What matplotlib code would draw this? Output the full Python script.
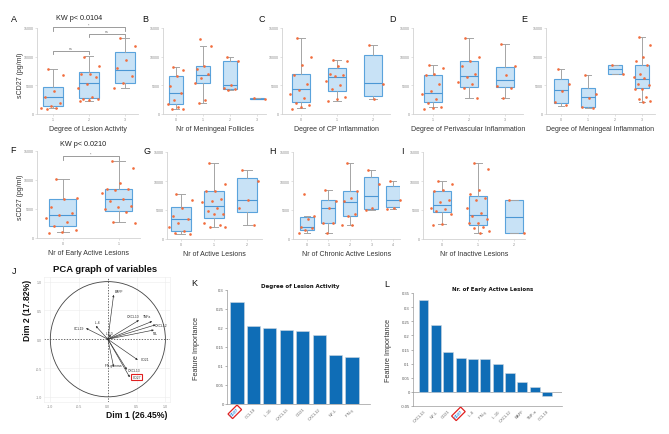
import numpy as np
import matplotlib
matplotlib.use('Agg')
import matplotlib.pyplot as plt
from matplotlib.patches import Circle

plt.rcParams['font.family'] = ['Liberation Sans', 'DejaVu Sans']

# ---------------- data ----------------
# box stats: [whisker low, q1, median, q3, whisker high]
A_cats = [1, 2, 3]
A_points = [[7800, 6800, 4000, 2900, 2000, 1400, 1100, 1000, 900],
            [10000, 8400, 7000, 6900, 6500, 5300, 4500, 3000, 2700, 2600, 2500, 2200],
            [13200, 11800, 9400, 8100, 6700, 5400, 4500]]
A_box = [[990, 1450, 2900, 4650, 7840], [2200, 2790, 5350, 7380, 10050],
         [4470, 5400, 7670, 10750, 13190]]

B_cats = [0, 1, 2, 3]
B_points = [[8250, 7700, 6600, 4900, 3600, 2500, 1800, 1200, 900, 850],
            [13100, 11800, 8300, 7800, 6900, 6300, 5400, 2500, 1900],
            [9900, 9300, 5000, 4600, 4300, 4200],
            [2750, 2700]]
B_box = [[870, 1690, 3600, 6570, 8250], [1860, 5350, 6800, 8310, 11800],
         [4240, 4360, 5050, 9300, 9880], [2650, 2650, 2700, 2800, 2800]]

C_cats = [0, 1, 2]
C_points = [[13200, 10000, 8500, 6800, 5200, 4100, 3500, 2800, 2000, 1600, 1200, 900],
            [9500, 9300, 8300, 7000, 6800, 6600, 5800, 5000, 4300, 2900, 2700, 2200],
            [12000, 5300, 2600]]
C_box = [[990, 2030, 4360, 6970, 13190], [2210, 4070, 6510, 7960, 9470],
         [2610, 3200, 5350, 10340, 12030]]

D_cats = [1, 2, 3]
D_points = [[8600, 8000, 7000, 6800, 5200, 4000, 3500, 2600, 2000, 1300, 1000, 850],
            [13200, 10000, 9300, 8300, 7000, 6500, 5600, 5300, 4500, 2800],
            [12200, 8300, 6800, 4900, 4500, 2800]]
D_box = [[1160, 2030, 3600, 6800, 8600], [2790, 4760, 6570, 9300, 13190],
         [2730, 4650, 5990, 8250, 12200]]

E_cats = [0, 1, 2, 3]
E_points = [[7900, 5200, 4000, 2100, 1500],
            [6800, 3500, 2800, 1200, 1100],
            [8600, 7000],
            [13400, 12000, 10000, 9200, 8500, 7000, 6500, 6300, 5300, 5000, 4400, 4400,
             2900, 2700, 2300, 2100]]
E_box = [[1450, 1920, 4130, 6100, 7850], [1050, 1160, 2900, 4470, 6800],
         [6970, 6970, 7840, 8540, 8540], [2150, 4470, 6100, 8540, 13360]]

F_cats = [0, 1]
F_points = [[10100, 6900, 6700, 5300, 4300, 4000, 3500, 2700, 2100, 1400, 1100, 900],
            [13200, 12000, 9400, 8400, 8400, 8200, 7800, 6700, 6300, 5500, 5400, 5000,
             4400, 2800, 2600]]
F_box = [[1035, 2070, 3910, 6730, 10120], [2760, 4660, 6730, 8450, 13230]]

G_cats = [0, 1, 2]
G_points = [[7800, 6700, 5300, 4000, 3500, 2800, 2000, 1400, 1000, 900],
            [13100, 9400, 8300, 8300, 6900, 6500, 6300, 5400, 4800, 4300, 4300, 2700,
             2500, 2000, 2000],
            [11950, 10000, 6750, 5400, 2500]]
G_box = [[870, 1330, 3460, 5600, 7790], [2020, 3580, 5770, 8190, 13100],
         [2480, 4620, 6750, 10500, 11950]]

H_cats = [0, 1, 2, 3, 4]
H_points = [[7800, 4000, 3500, 2000, 1900, 1500, 1000],
            [8400, 6600, 5300, 2800, 2800, 1000],
            [13100, 8300, 7000, 6500, 4300, 4000, 2500, 2400],
            [11950, 9400, 5300, 5000],
            [10000, 6700, 5400, 5200]]
H_box = [[980, 1560, 2130, 3870, 4040], [980, 2770, 5310, 6640, 8370],
         [2480, 4040, 6460, 8190, 13100], [5020, 5190, 7390, 10670, 11950],
         [5190, 5600, 6750, 9060, 9980]]

I_cats = [0, 1, 2]
I_points = [[10000, 9400, 8500, 8200, 6700, 6400, 5400, 5200, 4900, 4300, 2600, 2500],
            [13100, 12000, 8400, 7800, 7000, 6800, 5300, 4500, 4000, 3500, 2800, 2700,
             2000, 1900, 1300, 1000],
            [6700, 1000]]
I_box = [[2600, 4620, 5940, 8250, 9980], [980, 2480, 4210, 7390, 13100],
         [980, 980, 3870, 6640, 6640]]

K_labels = ['CD27', 'CCL19', 'IL-10', 'CXCL13', 'CD21', 'CXCL12', 'NF-L', 'IFN-γ']
K_values = [0.269, 0.204, 0.199, 0.194, 0.192, 0.181, 0.128, 0.125]

L_labels = ['CXCL13', 'NF-L', 'CD21', 'CD27', 'IL-6', 'IFN-γ', 'IL-10', 'CXCL12',
            'BAFF', 'TNF-α', 'CCL19']
L_values = [0.325, 0.236, 0.141, 0.120, 0.116, 0.116, 0.099, 0.067, 0.035, 0.018, -0.014]

pca_names = ['BAFF', 'CXCL10', 'TNFa', 'CXCL12', 'NfL', 'CCL19', 'IL-6', 'IL-10',
             'CD21', 'CXCL13', 'IFN-gamma', 'CD27']
pca_dim1 = [0.10, 0.54, 0.77, 0.83, 0.80, -0.38, -0.21, 0.05, 0.52, 0.33, 0.10, 0.38]
pca_dim2 = [0.77, 0.33, 0.31, 0.25, 0.16, 0.19, 0.23, 0.08, -0.36, -0.53, -0.48, -0.66]

# ---------------- figure ----------------
W, H = 669, 435
fig = plt.figure(figsize=(W / 100, H / 100), dpi=100)


def ax_px(l, t, r, b):
    return fig.add_axes([l / W, 1 - b / H, (r - l) / W, (b - t) / H])


BOX_FACE = '#c8e2f6'
BOX_EDGE = '#5aa3dc'
PT_COL = '#f26d3d'
GRAY = '#a5a5a5'


def box_panel(rect, cats, points, boxes, xlim, width, xlabel):
    ax = ax_px(*rect)
    stats = [dict(whislo=b[0], q1=b[1], med=b[2], q3=b[3], whishi=b[4], fliers=[])
             for b in boxes]
    ax.bxp(stats, positions=cats, widths=width, patch_artist=True, showfliers=False,
           boxprops=dict(facecolor=BOX_FACE, edgecolor=BOX_EDGE, lw=0.8),
           medianprops=dict(color='#4b97d4', lw=0.8),
           whiskerprops=dict(color=GRAY, lw=0.7),
           capprops=dict(color=GRAY, lw=0.7), capwidths=width * 0.45)
    for c, pts in zip(cats, points):
        n = len(pts)
        offs = np.array([((i * 0.618034 + 0.31) % 1 - 0.5) * width * 1.25
                         for i in range(n)])
        ax.plot(c + offs, pts, 'o', ms=1.9, color=PT_COL, mew=0, zorder=3,
                clip_on=False)
    ax.set_xlim(*xlim)
    ax.set_ylim(0, 15000)
    ax.set_xticks(cats)
    ax.set_yticks([0, 5000, 10000, 15000])
    ax.set_yticklabels(['0', '5000', '10000', '15000'])
    for s in ['top', 'right']:
        ax.spines[s].set_visible(False)
    for s in ['left', 'bottom']:
        ax.spines[s].set_color('#d2d2d2')
        ax.spines[s].set_linewidth(0.6)
    ax.tick_params(length=1.2, width=0.4, color='#cccccc', labelsize=2.6,
                   labelcolor='#8a8a8a', pad=1)
    ax.set_xlabel(xlabel, fontsize=5, color='#333333', labelpad=3)
    return ax


def bracket(ax, x1, x2, y, h, txt):
    ax.plot([x1, x1, x2, x2], [y - h, y, y, y - h], color='#8c8c8c', lw=0.6,
            clip_on=False)
    ax.text((x1 + x2) / 2, y + 80, txt, ha='center', va='bottom', fontsize=2.6,
            color='#666666')


axA = box_panel((37, 29, 138, 115), A_cats, A_points, A_box, (0.556, 3.36), 0.53,
                'Degree of Lesion Activity')
bracket(axA, 1, 2, 11000, 550, 'ns')
bracket(axA, 2, 3, 14000, 550, 'ns')
bracket(axA, 1, 3, 15100, 700, '*')
box_panel((163, 29, 266, 115), B_cats, B_points, B_box, (-0.48, 3.33), 0.52,
          'Nr of Meningeal Follicles')
box_panel((282, 29, 390, 115), C_cats, C_points, C_box, (-0.53, 2.47), 0.5,
          'Degree of CP Inflammation')
box_panel((413, 29, 523, 115), D_cats, D_points, D_box, (0.44, 3.5), 0.5,
          'Degree of Perivascular Inflammation')
box_panel((546, 29, 655, 115), E_cats, E_points, E_box, (-0.56, 3.48), 0.52,
          'Degree of Meningeal Inflammation')
axF = box_panel((37, 152, 140, 239), F_cats, F_points, F_box, (-0.46, 1.38), 0.49,
                'Nr of Early Active Lesions')
bracket(axF, 0, 1, 14100, 600, '*')
box_panel((167, 153, 262, 240), G_cats, G_points, G_box, (-0.42, 2.45), 0.6,
          'Nr of Active Lesions')
box_panel((293, 153, 400, 240), H_cats, H_points, H_box, (-0.65, 4.33), 0.65,
          'Nr of Chronic Active Lesions')
box_panel((423, 153, 525, 240), I_cats, I_points, I_box, (-0.53, 2.31), 0.52,
          'Nr of Inactive Lesions')

fig.text(20 / W, 1 - 75 / H, 'sCD27 (pg/ml)', rotation=90, ha='center', va='center',
         fontsize=5, color='#333333')
fig.text(20 / W, 1 - 197 / H, 'sCD27 (pg/ml)', rotation=90, ha='center', va='center',
         fontsize=5, color='#333333')
fig.text(79 / W, 1 - 18 / H, 'KW p< 0.0104', ha='center', va='center', fontsize=5.2,
         color='#222222')
fig.text(83 / W, 1 - 144 / H, 'KW p< 0.0210', ha='center', va='center', fontsize=5.2,
         color='#222222')

letters = [('A', 14, 19), ('B', 145, 19), ('C', 262, 19), ('D', 393, 19), ('E', 524, 19),
           ('F', 13, 151), ('G', 147, 152), ('H', 273, 152), ('I', 402, 152),
           ('J', 14, 272), ('K', 194, 284), ('L', 387, 285)]
for s, x, y in letters:
    fig.text(x / W, 1 - y / H, s, ha='center', va='center', fontsize=6.5, color='#111111')

# ---------------- PCA ----------------
axp = ax_px(44, 278, 170, 403)
axp.set_xlim(-1.11, 1.08)
axp.set_ylim(-1.09, 1.08)
for v in [-1, -0.5, 0.5, 1]:
    axp.axvline(v, color='#ececec', lw=0.4, zorder=0)
    axp.axhline(v, color='#ececec', lw=0.4, zorder=0)
axp.axvline(0, color='#333333', lw=0.5, ls=(0, (2, 2)), zorder=1)
axp.axhline(0, color='#333333', lw=0.5, ls=(0, (2, 2)), zorder=1)
axp.add_patch(Circle((0, 0), 1, fill=False, ec='#444444', lw=0.6))
lab_off = {'BAFF': (4, 3), 'CXCL10': (-4, 3), 'TNFa': (-4, 4), 'CXCL12': (4, 0),
           'NfL': (1, -2), 'CCL19': (-5, 0), 'IL-6': (1, 3), 'IL-10': (-1, 1),
           'CD21': (5, 1), 'CXCL13': (5, 0), 'IFN-gamma': (0, 1), 'CD27': (5, 0)}
for nm, x, y in zip(pca_names, pca_dim1, pca_dim2):
    axp.annotate('', xy=(x, y), xytext=(0, 0),
                 arrowprops=dict(arrowstyle='-|>', lw=0.45, color='#333333',
                                 shrinkA=0, shrinkB=0, mutation_scale=2.5))
    dx, dy = lab_off[nm]
    kw = {}
    if nm == 'CD27':
        kw['bbox'] = dict(boxstyle='square,pad=0.35', fc='none', ec='#e02020', lw=0.8)
    axp.annotate(nm, xy=(x, y), xytext=(dx, dy), textcoords='offset points',
                 ha='center', va='center', fontsize=2.4, color='#333333', **kw)
axp.set_xticks([-1, -0.5, 0, 0.5, 1])
axp.set_yticks([-1, -0.5, 0, 0.5, 1])
axp.set_xticklabels(['-1.0', '-0.5', '0.0', '0.5', '1.0'])
axp.set_yticklabels(['-1.0', '-0.5', '0.0', '0.5', '1.0'])
axp.tick_params(length=0, labelsize=2.6, labelcolor='#888888', pad=1.5)
for s in axp.spines.values():
    s.set_color('#ececec')
    s.set_linewidth(0.4)
fig.text(105 / W, 1 - 270 / H, 'PCA graph of variables', ha='center', va='center',
         fontsize=6.8, fontweight='bold', color='#111111')
fig.text(137 / W, 1 - 416 / H, 'Dim 1 (26.45%)', ha='center', va='center',
         fontsize=6.2, fontweight='bold', color='#111111')
fig.text(28 / W, 1 - 310 / H, 'Dim 2 (17.82%)', ha='center', va='center', rotation=90,
         fontsize=6.2, fontweight='bold', color='#111111')

# ---------------- bar charts ----------------
BAR = '#0f6db6'


def bar_panel(rect, labels, values, xlim, ylim, yticks, title, tpos, ylab_x):
    ax = ax_px(*rect)
    x = np.arange(len(labels))
    ax.bar(x, values, width=0.8, color=BAR, edgecolor='#cfd8e0', lw=0.4, zorder=2)
    ax.set_xlim(*xlim)
    ax.set_ylim(*ylim)
    ax.set_yticks(yticks)
    ax.set_yticklabels(['%g' % v for v in yticks])
    ax.set_xticks(x)
    ax.set_xticklabels(labels, rotation=45, ha='right', rotation_mode='anchor')
    for s in ['top', 'right']:
        ax.spines[s].set_visible(False)
    for s in ['left', 'bottom']:
        ax.spines[s].set_color('#9a9a9a')
        ax.spines[s].set_linewidth(0.5)
    ax.tick_params(axis='y', length=1.5, width=0.4, color='#777777', labelsize=3,
                   labelcolor='#555555', pad=0.8)
    ax.tick_params(axis='x', length=0, labelsize=3, labelcolor='#666666', pad=2)
    for t in ax.get_xticklabels():
        if t.get_text() == 'CD27':
            t.set_color('#2d8ee0')
            t.set_fontweight('bold')
            t.set_bbox(dict(boxstyle='square,pad=0.3', fc='white', ec='#e02020', lw=0.9))
    fig.text(tpos[0] / W, 1 - tpos[1] / H, title, ha='center', va='center',
             fontsize=4, fontweight='bold', family='DejaVu Sans', color='#111111')
    fig.text(ylab_x / W, 1 - ((rect[1] + rect[3]) / 2) / H, 'Feature Importance',
             rotation=90, ha='center', va='center', fontsize=5.2, color='#333333')
    return ax


bar_panel((227, 291, 370, 405), K_labels, K_values, (-0.61, 8.1), (0, 0.3),
          [0, 0.05, 0.1, 0.15, 0.2, 0.25, 0.3], 'Degree of Lesion Activity', (300, 287),
          197)
axL = bar_panel((413, 294, 562, 407), L_labels, L_values, (-0.85, 11.2), (-0.05, 0.35),
                [-0.05, 0, 0.05, 0.1, 0.15, 0.2, 0.25, 0.3, 0.35],
                'Nr. of Early Active Lesions', (493, 289), 388)
axL.axhline(0, color='#9a9a9a', lw=0.5, zorder=1)

fig.savefig('out.png', dpi=100)
